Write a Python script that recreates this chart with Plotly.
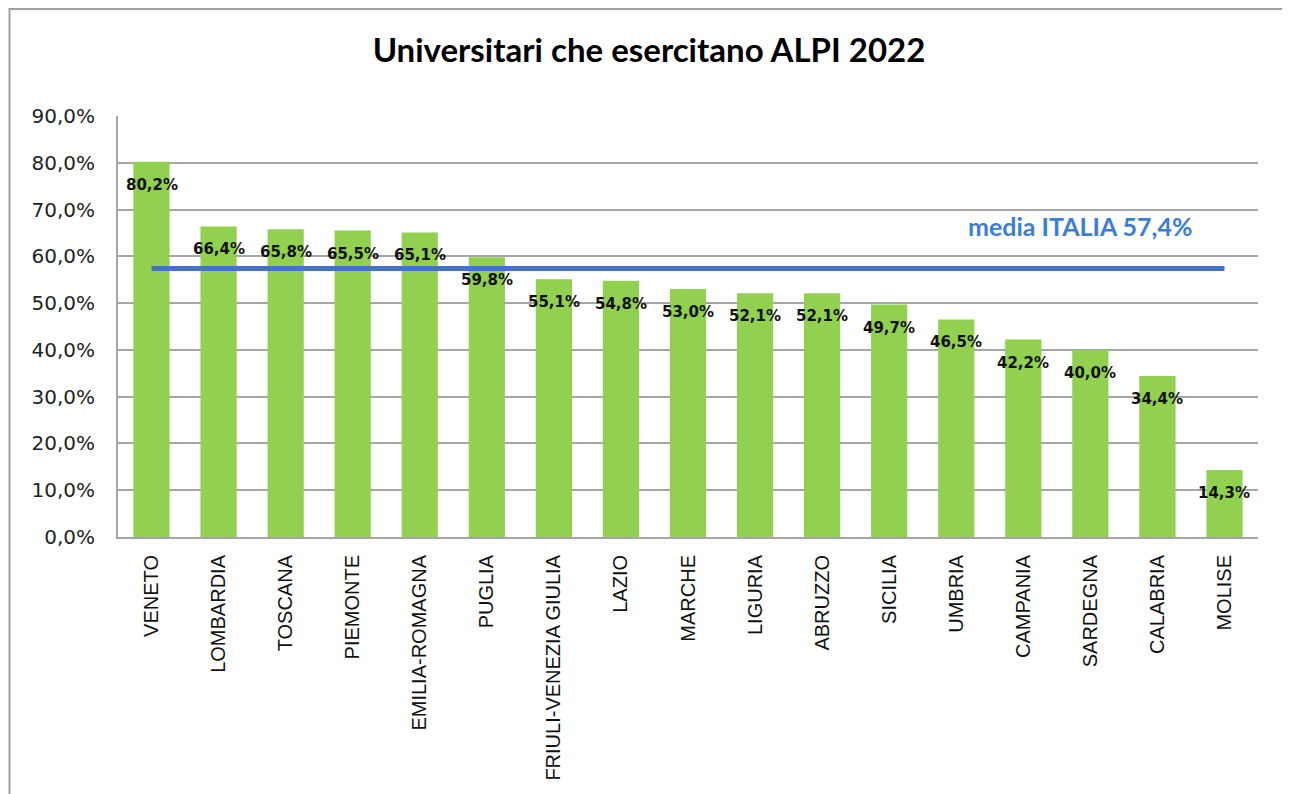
import plotly.graph_objects as go

regions = ["VENETO", "LOMBARDIA", "TOSCANA", "PIEMONTE", "EMILIA-ROMAGNA", "PUGLIA",
           "FRIULI-VENEZIA GIULIA", "LAZIO", "MARCHE", "LIGURIA", "ABRUZZO", "SICILIA",
           "UMBRIA", "CAMPANIA", "SARDEGNA", "CALABRIA", "MOLISE"]
values = [80.2, 66.4, 65.8, 65.5, 65.1, 59.8, 55.1, 54.8, 53.0, 52.1, 52.1, 49.7,
          46.5, 42.2, 40.0, 34.4, 14.3]
media_italia = 57.4
title_text = "Universitari che esercitano ALPI 2022"
media_label = "media ITALIA 57,4%"

OFF = 8  # default page body margin
W, H = 1290 - OFF, 794 - OFF
L, R, T, B = 118 - OFF, 1258 - OFF, 116 - OFF, 537 - OFF

def px_x(p):
    return (p - OFF - L) / (R - L)

def px_y(p):
    return (B - (p - OFF)) / (B - T)

fig = go.Figure()
fig.add_trace(go.Bar(
    x=regions, y=values, marker=dict(color="#92D050", line=dict(width=0)),
    width=0.54, hoverinfo="x+y", showlegend=False,
))
fig.add_trace(go.Scatter(
    x=[regions[0], regions[-1]], y=[media_italia, media_italia], mode="lines",
    line=dict(color="#4472C4", width=5), showlegend=False, hoverinfo="skip",
))

annotations = []
for r, v in zip(regions, values):
    annotations.append(dict(
        x=r, y=v, xref="x", yref="y", text=f"{v:.1f}%".replace(".", ","),
        showarrow=False, yanchor="middle", xanchor="center", yshift=-23,
        font=dict(family="DejaVu Sans", size=15, color="#111111", weight="bold"),
    ))
annotations.append(dict(
    x=px_x(1080), y=px_y(226), xref="paper", yref="paper", text=f"<b>{media_label}</b>",
    showarrow=False, xanchor="center", yanchor="middle",
    font=dict(family="Lato", size=25, color="#3B7DD8"),
))

fig.update_layout(
    width=W, height=H,
    margin=dict(l=L, r=W - R, t=T, b=H - B),
    paper_bgcolor="white", plot_bgcolor="white",
    separators=",.",
    title=dict(text=f"<b>{title_text}</b>", x=0.5, xanchor="center", xref="container",
               y=1 - (50 - OFF) / H, yanchor="middle", yref="container",
               font=dict(family="Lato", size=33, color="#000000")),
    annotations=annotations,
    shapes=[dict(type="rect", xref="paper", yref="paper",
                 x0=px_x(9.5), x1=px_x(1288), y0=px_y(800), y1=px_y(9),
                 line=dict(color="#A0A0A0", width=2), fillcolor="rgba(0,0,0,0)",
                 layer="below")],
)
fig.update_yaxes(
    range=[0, 90], dtick=10, tickformat=".1f", ticksuffix="%",
    showgrid=True, gridcolor="#A6A6A6", gridwidth=2,
    showline=True, linecolor="#A6A6A6", linewidth=2,
    ticks="", ticklabelstandoff=17,
    tickfont=dict(family="DejaVu Sans", size=20, color="#222222"),
    zeroline=False, layer="below traces",
)
fig.update_xaxes(
    range=[-0.5, 16.5], tickangle=-90,
    showline=True, linecolor="#A6A6A6", linewidth=2,
    ticks="", ticklabelstandoff=8,
    tickfont=dict(family="Liberation Sans", size=20, color="#111111"),
)

fig.write_html("out.html")
